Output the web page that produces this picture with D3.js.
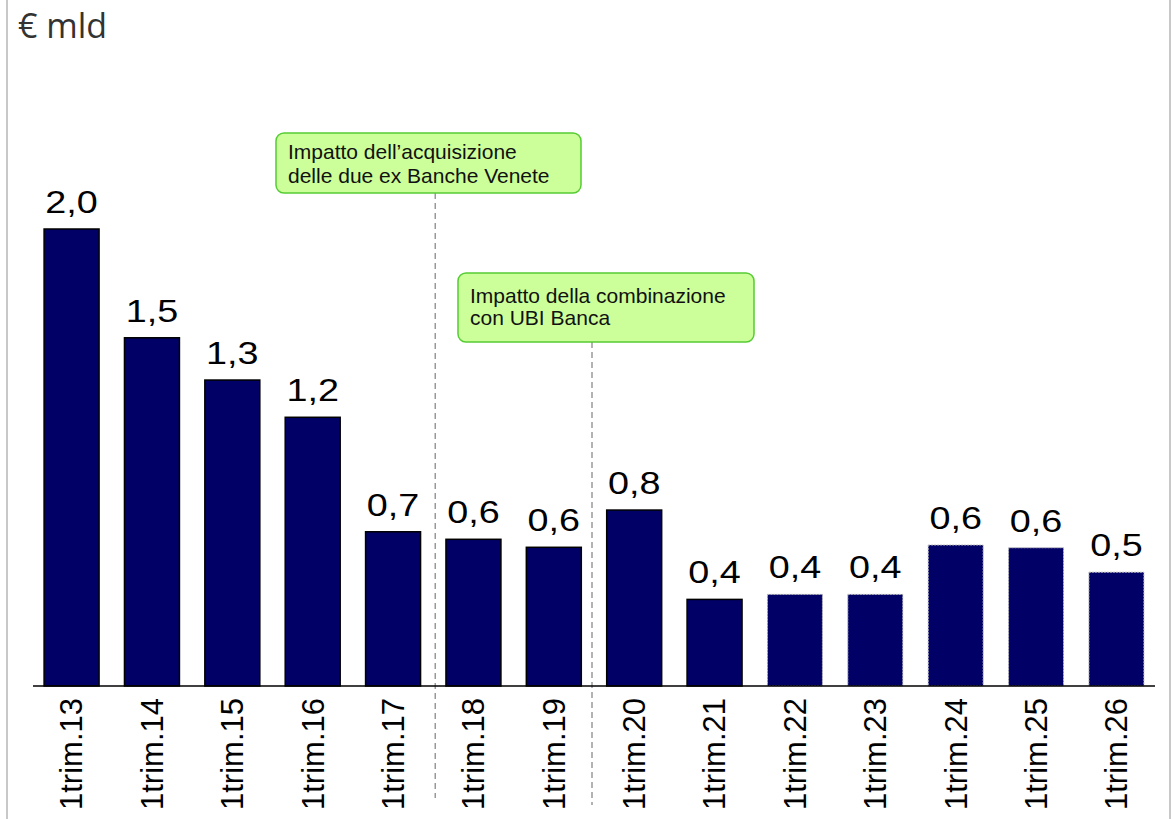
<!DOCTYPE html>
<html><head><meta charset="utf-8">
<script src="https://cdn.jsdelivr.net/npm/d3@7"></script>
<style>html,body{margin:0;padding:0;background:#fff;}svg{display:block;}</style>
</head><body>
<script>
const categories = ["1trim.13","1trim.14","1trim.15","1trim.16","1trim.17","1trim.18","1trim.19","1trim.20","1trim.21","1trim.22","1trim.23","1trim.24","1trim.25","1trim.26"];
const values = [2.00,1.524,1.339,1.176,0.675,0.642,0.607,0.770,0.379,0.401,0.401,0.617,0.605,0.498];
const estimated = [false,false,false,false,false,false,false,false,false,true,true,true,true,true];
const unitLabel = "€ mld";
const callouts = [
  {after:"1trim.17", lines:["Impatto dell\u2019acquisizione","delle due ex Banche Venete"]},
  {after:"1trim.19", lines:["Impatto della combinazione","con UBI Banca"]}
];

const W=1174,H=819;
const svg=d3.select("body").append("svg").attr("width",W).attr("height",H);
// frame
svg.append("line").attr("x1",7).attr("x2",7).attr("y1",0).attr("y2",H).attr("stroke","#c8c8c8").attr("stroke-width",2);
svg.append("line").attr("x1",1170).attr("x2",1170).attr("y1",0).attr("y2",H).attr("stroke","#c8c8c8").attr("stroke-width",2);

svg.append("text").attr("x",18).attr("y",38).attr("font-family","'Open Sans'").attr("font-size",34).attr("fill","#333").text(unitLabel);

const x=d3.scaleBand().domain(categories).range([33,1155]).paddingInner(0.316).paddingOuter(0.138);
const y=d3.scaleLinear().domain([0,2]).range([686,229]);
const fmt=v=>d3.format(".1f")(v).replace(".",",");

// dashed separators + callouts
const boxes=[{x:276,y:133,w:305,h:60,dx:2,y2:798},{x:458,y:273,w:296,h:69,dx:-2,y2:805}];
callouts.forEach((c,i)=>{
  const i0=categories.indexOf(c.after);
  const b=boxes[i];
  const sx=(x(categories[i0])+x.bandwidth()+x(categories[i0+1]))/2+b.dx;
  svg.append("line").attr("x1",sx).attr("x2",sx).attr("y1",b.y+b.h).attr("y2",b.y2)
    .attr("stroke","#999").attr("stroke-width",1.5).attr("stroke-dasharray","6,4");
  svg.append("rect").attr("x",b.x).attr("y",b.y).attr("width",b.w).attr("height",b.h).attr("rx",8)
    .attr("fill","#ccff99").attr("stroke","#55cc33").attr("stroke-width",1.5);
  const t=svg.append("text").attr("font-family","'Liberation Sans',Arial").attr("font-size",21).attr("fill","#111");
  c.lines.forEach((l,j)=>t.append("tspan").attr("x",b.x+12).attr("y",b.y+(i===0?26:30)+j*(i===0?23.5:22)).text(l));
});

svg.selectAll("rect.bar").data(values).enter().append("rect").attr("class","bar")
  .attr("x",(d,i)=>x(categories[i])).attr("width",x.bandwidth())
  .attr("y",d=>y(d)).attr("height",d=>y(0)-y(d))
  .attr("fill","#000066")
  .attr("stroke",(d,i)=>estimated[i]?"#bbb":"#000")
  .attr("stroke-width",(d,i)=>estimated[i]?1:1.5)
  .attr("stroke-dasharray",(d,i)=>estimated[i]?"2,1":null);

svg.selectAll("text.val").data(values).enter().append("text").attr("class","val")
  .attr("transform",(d,i)=>`translate(${x(categories[i])+x.bandwidth()/2},${y(d)-16}) scale(1.18,1)`)
  .attr("text-anchor","middle").attr("font-family","'Liberation Sans',Arial").attr("font-size",32).attr("fill","#000")
  .text(d=>fmt(d));

svg.append("line").attr("x1",33).attr("x2",1155).attr("y1",686).attr("y2",686).attr("stroke","#000").attr("stroke-width",1.5);

svg.selectAll("text.cat").data(categories).enter().append("text").attr("class","cat")
  .attr("transform",d=>`translate(${x(d)+x.bandwidth()/2},698) rotate(-90)`)
  .attr("dy","0.35em").attr("text-anchor","end")
  .attr("font-family","'Liberation Sans',Arial").attr("font-size",31).attr("fill","#000")
  .text(d=>d);
</script>
</body></html>
